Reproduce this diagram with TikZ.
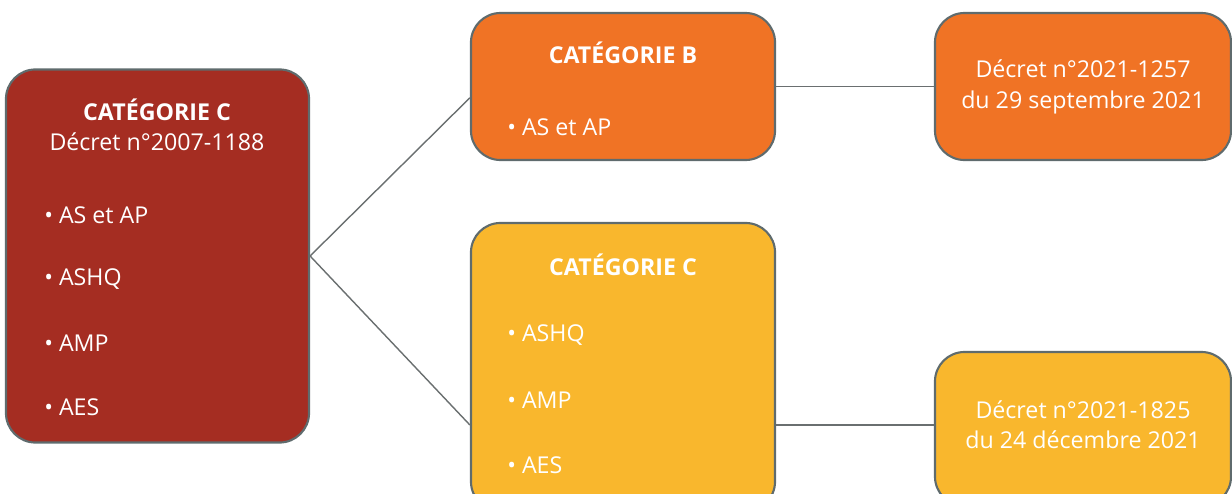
\documentclass[tikz,border=0pt]{standalone}
\usepackage{fontspec}
\setmainfont{Open Sans}
\usetikzlibrary{positioning}
\definecolor{rouge}{HTML}{A52D22}
\definecolor{orange}{HTML}{F07325}
\definecolor{jaune}{HTML}{F9B72D}
\definecolor{bordure}{HTML}{5F6B6D}
\definecolor{trait}{HTML}{6A6F70}

\begin{document}
\begin{tikzpicture}[
        x=0.025cm, y=-0.025cm,
        box/.style={draw=bordure, line width=1.5pt, rounded corners=21pt, inner sep=0pt},
        titre/.style={text=white, font=\fontsize{16.5}{21}\selectfont\bfseries},
        texte/.style={text=white, font=\fontsize{16.5}{21.5}\selectfont},
        puce/.style={texte, anchor=west, inner sep=0pt},
        lien/.style={draw=trait, line width=1pt}
        ]
    
        \useasboundingbox (0,0) rectangle (1232,494);
    
        % Boxes
        \node[box, fill=rouge, minimum width=7.575cm, minimum height=9.325cm] (catC) at (157.5,256) {};
        \node[box, fill=orange, minimum width=7.6cm, minimum height=3.675cm] (catB) at (623,86.5) {};
        \node[box, fill=jaune, minimum width=7.6cm, minimum height=7.2cm] (catCc) at (623,367) {};
        \node[box, fill=orange, minimum width=7.4cm, minimum height=3.675cm] (decB) at (1083,86.5) {};
        \node[box, fill=jaune, minimum width=7.4cm, minimum height=3.85cm] (decC) at (1083,429) {};
    
        % Texts
        \node[titre] (titreC) at (157,110) {CATÉGORIE C};
        \node[texte] (decretC) at (157,142) {Décret n°2007-1188};
        \foreach \nom [count=\i] in {AS et AP, ASHQ, AMP, AES}
            \node[puce] (gauche\i) at (44,151+64*\i) {• \nom};
    
        \node[titre] (titreB) at (623,53) {CATÉGORIE B};
        \node[puce] (milieu0) at (507,127) {• AS et AP};
    
        \node[titre] (titreCc) at (623,265) {CATÉGORIE C};
        \foreach \nom [count=\i] in {ASHQ, AMP, AES}
            \node[puce] (milieu\i) at (507,270+65*\i) {• \nom};
    
        \node[texte, align=center] (texteB) at (1083,87) {Décret n°2021-1257\\du 29 septembre 2021};
        \node[texte, align=center] (texteC) at (1083,425) {Décret n°2021-1825\\du 24 décembre 2021};
    
        % Edges
        \draw[lien] (catC.east) -- ([yshift=-8pt]catB.west);
        \draw[lien] (catC.east) -- (catCc.west |- texteC);
        \draw[lien] (catB.east) -- (decB.west);
        \draw[lien] (catCc.east |- texteC) -- (decC.west |- texteC);
    
    \end{tikzpicture}
\end{document}
